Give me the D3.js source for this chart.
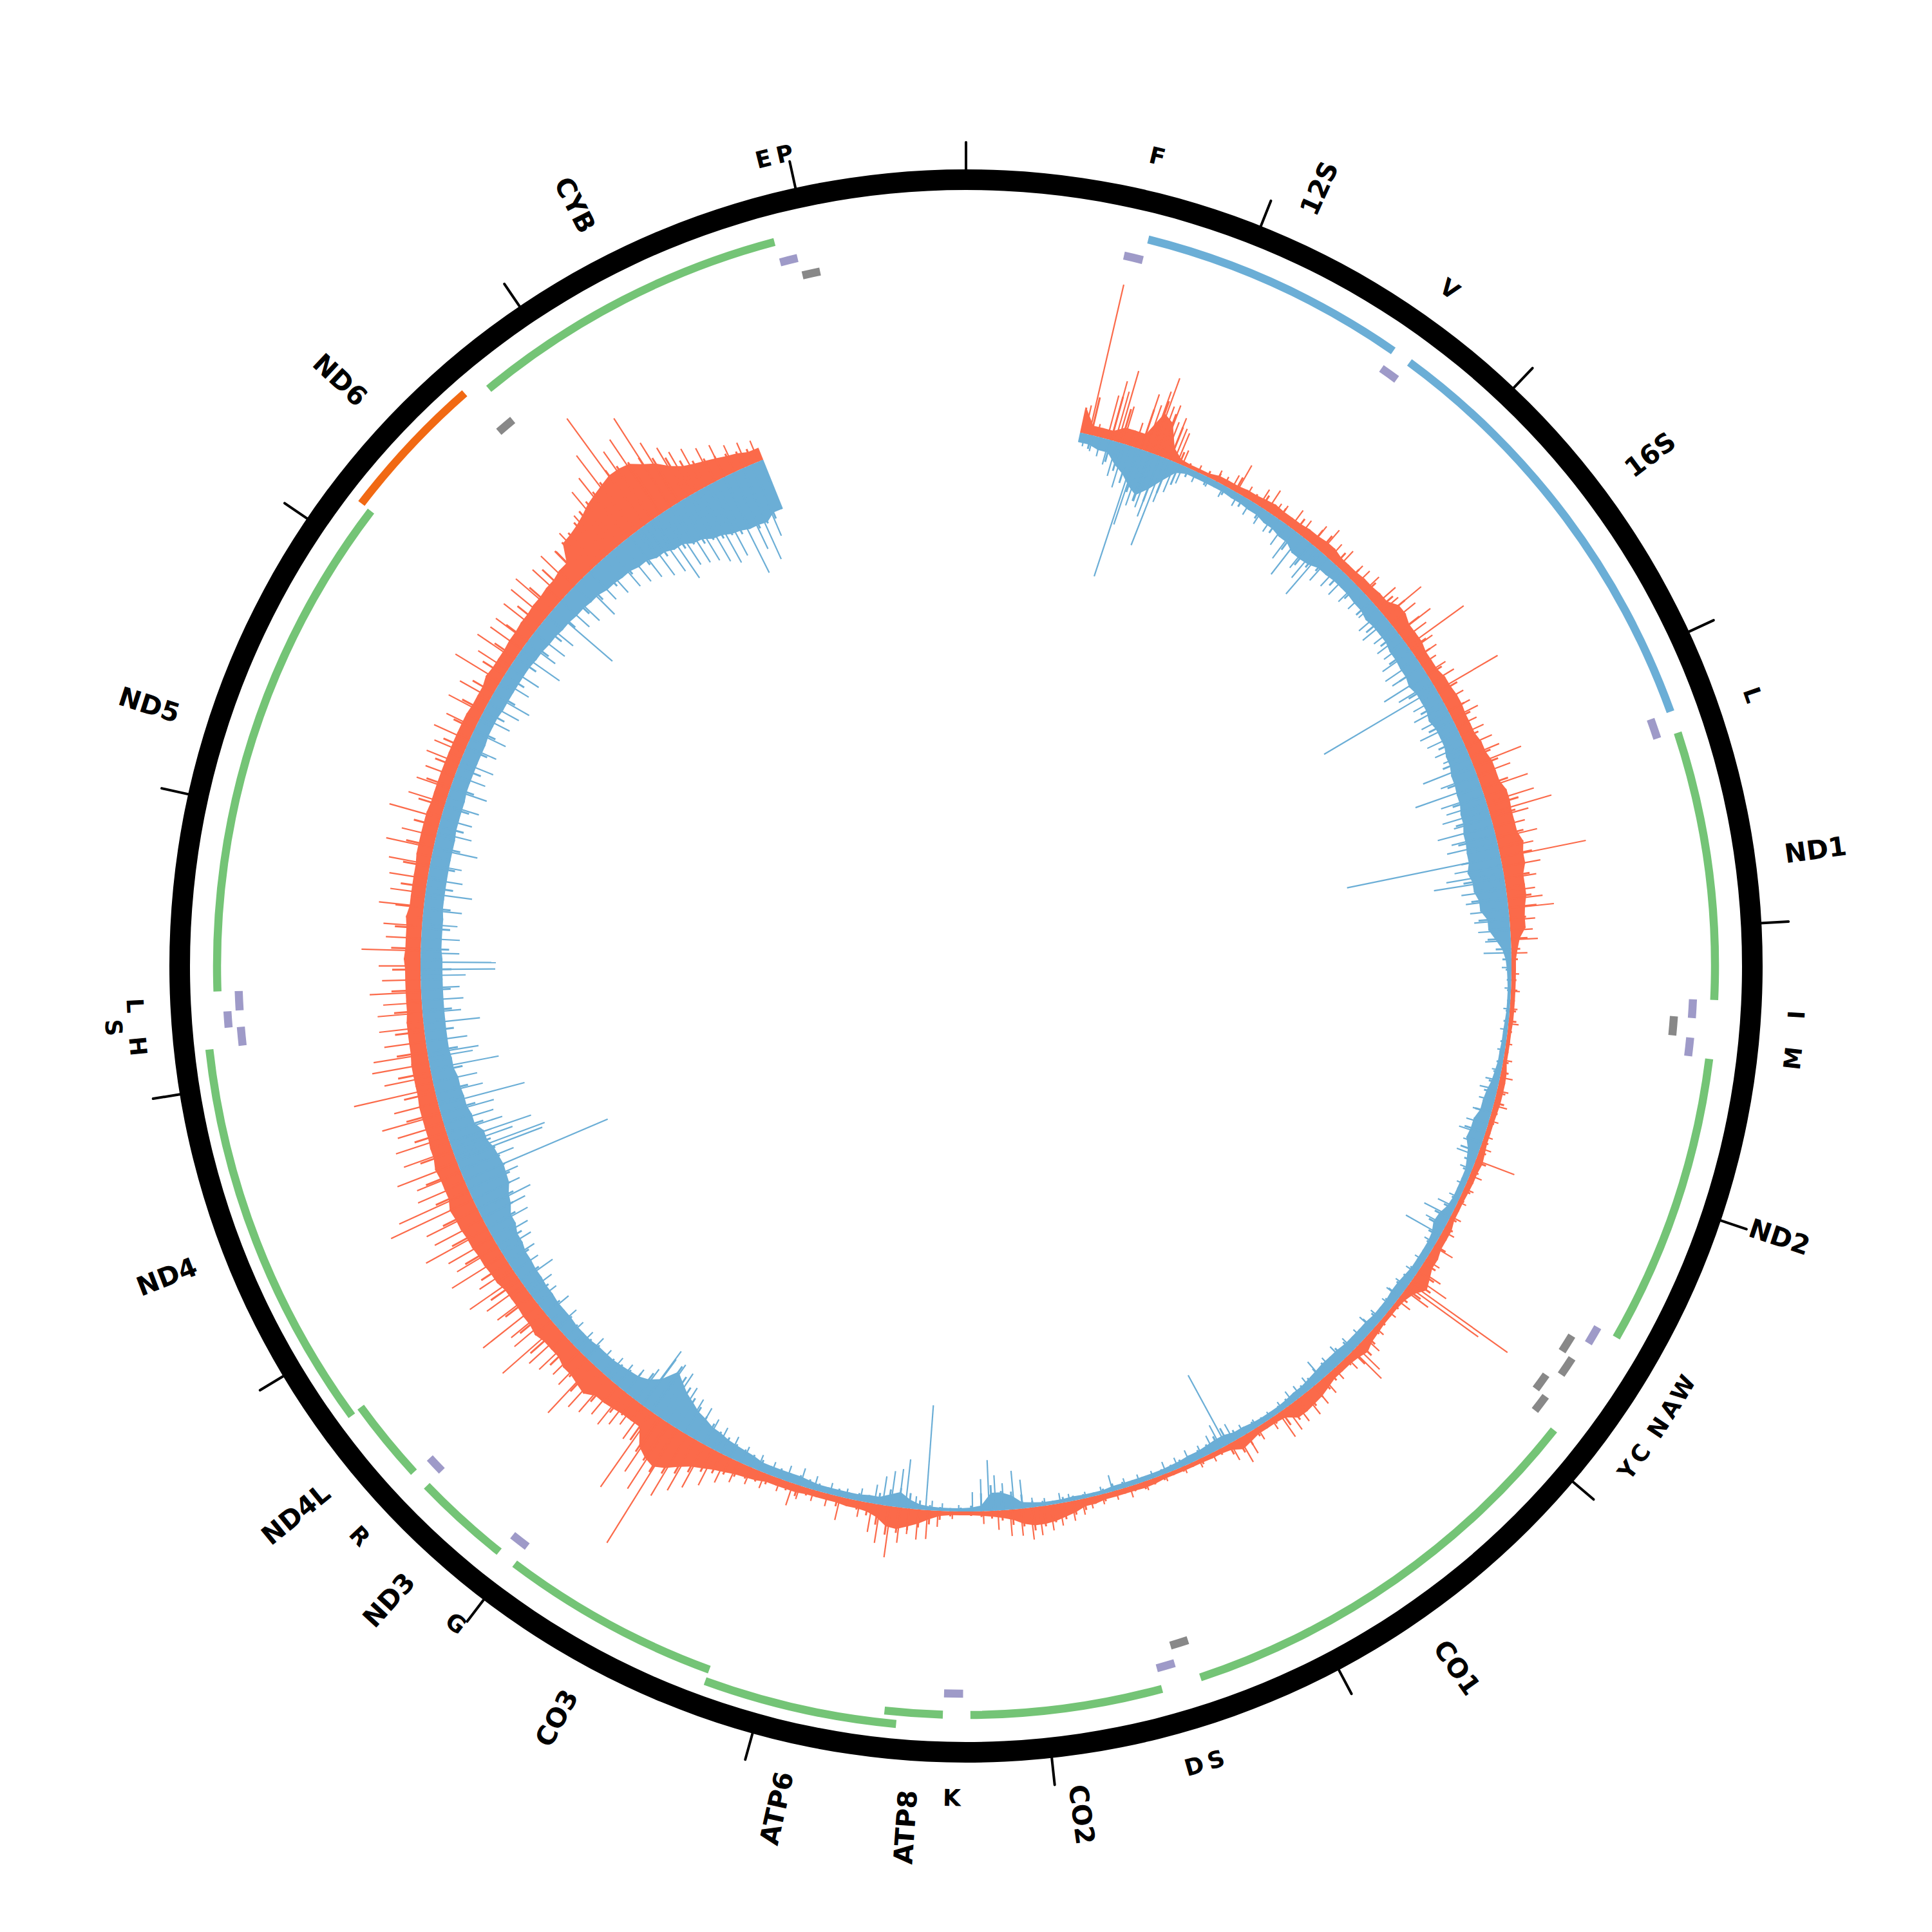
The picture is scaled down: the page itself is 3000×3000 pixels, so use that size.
<!DOCTYPE html>
<html>
<head>
<meta charset="utf-8">
<script src="https://cdnjs.cloudflare.com/ajax/libs/d3/7.8.5/d3.min.js"></script>
<style>
  body { margin: 0; background: #ffffff; }
  text { font-family: "DejaVu Sans", sans-serif; fill: #000; }
</style>
</head>
<body>
<svg id="chart" width="3000" height="3000"></svg>
<script>
// ---------------- DATA ----------------
const genomeLength = 16569;
const tickPositions = [0,1000,2000,3000,4000,5000,6000,7000,8000,9000,10000,11000,12000,13000,14000,15000,16000];

const featureNames  = ["F","12S","V","16S","L1","ND1","I","Q","M","ND2","W","A","N","C","Y","CO1","S1","D","CO2","K","ATP8","ATP6","CO3","G","ND3","R","ND4L","ND4","H","S2","L2","ND5","ND6","E","CYB","T","P"];
const featureStarts = [577,648,1602,1671,3230,3307,4263,4329,4402,4470,5512,5587,5657,5761,5826,5904,7446,7518,7586,8295,8366,8527,9207,9991,10059,10405,10470,10760,12138,12207,12266,12337,14149,14674,14747,15888,15956];
const featureEnds   = [647,1601,1670,3229,3304,4262,4331,4400,4469,5511,5579,5655,5729,5826,5891,7445,7514,7585,8269,8364,8572,9207,9990,10058,10404,10469,10766,12137,12206,12265,12336,14148,14673,14742,15887,15953,16023];
const featureTypes  = ["tRNA","rRNA","tRNA","rRNA","tRNA","protein","tRNA","tRNA","tRNA","protein","tRNA","tRNA","tRNA","tRNA","tRNA","protein","tRNA","tRNA","protein","tRNA","protein","protein","protein","tRNA","protein","tRNA","protein","protein","tRNA","tRNA","tRNA","protein","protein","tRNA","protein","tRNA","tRNA"];
const featureStrands= ["H","H","H","H","H","H","H","L","H","H","H","L","L","L","L","H","L","H","H","H","H","H","H","H","H","H","H","H","H","H","H","H","L","L","H","H","L"];
const featureLabels = ["F","12S","V","16S","L","ND1","I","","M","ND2","W","A","N","C","Y","CO1","S","D","CO2","K","ATP8","ATP6","CO3","G","ND3","R","ND4L","ND4","H","S","L","ND5","ND6","","CYB","E","P"];
const liftedLabels  = ["S2"];

// coverage depth in 50 bp bins starting at 560
const coverageStart = 560;
const coverageStep = 50;
const forwardDepth = [
  40,60,15,70,55,25,65,85,70,55,20,8,6,10,14,10,25,12,14,22,
  16,20,14,24,16,28,30,18,24,14,20,16,24,18,30,40,28,42,22,30,
  26,18,26,22,34,24,28,30,22,28,26,34,40,30,44,36,50,40,34,44,
  40,50,36,40,30,38,44,26,24,26,14,10,7,8,10,7,10,12,7,6,
  6,9,12,10,14,16,10,9,8,10,12,18,12,10,12,9,8,12,14,12,
  20,16,22,30,35,28,15,10,8,10,12,18,26,28,14,12,16,20,22,26,
  24,28,26,12,10,14,20,24,18,10,8,10,7,8,7,9,10,12,10,9,
  9,12,12,18,22,26,28,32,36,28,24,16,12,9,7,6,8,14,22,28,
  34,40,45,32,20,14,12,16,10,10,12,18,14,12,16,18,20,24,28,34,
  40,50,62,72,80,70,65,55,30,32,40,34,46,44,55,40,36,48,30,58,
  34,50,30,52,28,55,32,50,34,58,36,62,38,60,40,56,34,58,36,54,
  32,52,30,55,30,50,28,52,28,48,26,46,26,44,24,46,24,44,26,46,
  24,42,26,44,22,40,22,42,24,44,24,40,24,42,22,40,22,38,22,38,
  22,36,22,38,20,38,24,40,22,40,24,42,26,46,28,50,30,54,34,60,
  62,66,72,80,85,90,95,105,100,95,92,80,70,55,45,40,36,32,28,25,
  20];
const reverseDepth = [
  15,22,20,35,45,60,70,80,75,55,35,15,10,14,10,15,12,18,14,20,
  18,26,22,36,30,42,34,28,22,30,20,28,22,32,26,38,24,34,28,40,
  30,42,34,44,30,40,34,42,30,40,34,46,38,50,40,52,44,56,48,60,
  50,62,55,64,50,56,44,48,34,36,24,14,9,7,6,5,6,8,7,9,
  8,10,12,16,20,18,26,24,34,26,30,18,14,10,10,12,18,26,28,20,
  14,12,12,14,16,18,22,16,14,18,22,16,16,20,22,18,20,22,16,14,
  12,12,10,9,10,12,12,16,28,22,16,14,12,12,10,9,8,8,8,10,
  12,8,6,7,8,9,6,8,10,22,28,30,40,28,9,6,5,6,8,14,
  24,30,26,18,12,12,10,12,10,12,14,16,14,16,14,18,20,22,24,28,
  30,36,40,48,55,65,75,85,88,50,38,32,30,28,26,28,26,24,26,28,
  26,30,28,32,30,36,32,38,36,44,42,50,54,62,64,70,68,66,64,62,
  56,60,46,56,42,52,40,50,36,48,34,46,34,46,34,46,34,48,34,44,
  32,44,32,42,30,42,30,40,30,42,30,40,28,40,28,38,26,38,26,36,
  26,36,24,36,26,38,26,36,26,38,28,40,30,42,32,44,34,46,36,46,
  40,46,42,48,46,54,52,60,58,66,68,76,78,84,86,92,90,96,94,92,
  82];

// single-position peaks [position, depth]
const forwardPeaks = [[580,45],[600,239],[640,20],[690,70],[710,95],[730,80],[745,115],[770,60],[800,25],[830,40],[860,90],[885,75],[905,100],[920,124],[940,80],[965,85],[985,60],[1009,70],[1030,55],[1048,50],[1075,25],
  [1160,12],[1258,19],[1300,15],[1340,25],[1368,48],[1420,20],[1496,30],[1541,38],[1580,22],
  [1611,25],[1680,33],[1740,28],[1812,36],[1868,44],[1920,30],[1980,34],[2060,28],[2100,30],[2150,34],[2237,42],[2280,35],
  [2310,73],[2350,50],[2412,63],[2450,45],[2490,107],[2515,41],[2560,38],[2601,28],[2650,35],[2700,40],[2748,109],[2807,36],[2860,38],[2900,45],[2946,35],[2990,40],
  [3050,45],[3100,50],[3148,80],[3200,55],[3272,75],[3341,77],[3393,100],[3420,60],[3467,50],[3520,65],[3570,55],[3615,135],[3660,60],[3719,50],[3780,45],[3820,55],[3863,71],[3920,40],[3970,35],[4015,42],[4080,25],
  [4180,12],[4264,14],[4350,12],[4422,16],[4520,10],[4600,14],[4684,20],[4750,18],[4824,22],[4900,15],[4980,14],[5040,18],[5101,64],[5180,20],[5250,16],[5320,14],[5400,18],[5480,20],[5567,34],
  [5640,25],[5700,40],[5740,60],[5777,186],[5795,135],[5820,45],[5880,25],[5950,15],[6050,18],[6120,30],[6180,50],[6204,62],[6250,25],
  [6330,22],[6400,30],[6460,35],[6520,40],[6580,38],[6630,42],[6674,45],[6720,20],[6800,22],[6860,35],[6900,43],[6950,30],
  [7050,15],[7121,14],[7200,12],[7300,12],[7400,15],[7480,18],[7550,15],[7620,16],[7677,18],[7720,25],[7770,31],[7830,35],[7876,40],[7930,45],[7972,50],[8020,42],[8071,41],[8130,30],[8200,20],
  [8350,12],[8420,25],[8470,45],[8515,47],[8560,40],[8600,55],[8648,80],[8700,60],[8740,45],[8800,25],[8898,37],[8960,20],[9030,18],[9100,22],[9135,36],[9200,20],[9280,25],[9350,28],
  [9420,35],[9480,45],[9540,60],[9600,75],[9650,90],[9700,110],[9753,208],[9800,120],[9850,100],[9898,141],[9940,60],[9990,45],[10030,55],[10070,66],[10120,60],[10170,70],[10220,75],[10268,103],[10320,60],[10370,55],
  [10430,65],[10480,70],[10525,111],[10580,70],[10620,65],[10662,109],[10720,65],[10780,70],[10830,90],[10880,60],[10950,95],[11000,75],[11050,80],[11100,110],[11150,85],[11200,90],[11259,141],[11300,120],[11350,80],[11402,74],[11450,100],
  [11520,80],[11587,85],[11650,75],[11700,95],[11760,70],[11831,128],[11890,75],[11953,90],[12000,85],[12060,65],[12130,70],[12200,70],[12250,60],[12300,80],[12360,60],[12427,65],[12500,92],
  [12560,55],[12620,60],[12714,70],[12780,55],[12850,60],[12920,65],[13001,75],[13060,55],[13150,83],[13226,60],[13300,55],[13363,48],[13430,55],[13487,50],
  [13550,60],[13620,50],[13700,60],[13780,55],[13873,82],[13940,55],[14000,70],[14060,60],[14106,61],[14180,65],[14250,70],[14300,75],[14380,65],[14450,70],[14513,58],
  [14580,75],[14625,60],[14680,80],[14740,110],[14800,120],[14850,150],[14908,205],[14950,130],[15000,140],[15062,164],[15100,110],[15150,90],[15186,75],[15240,70],[15300,60],[15360,55],[15420,45],[15480,40],[15540,35]];

const reversePeaks = [[580,20],[620,25],[660,30],[700,40],[740,55],[780,70],[838,210],[852,124],[880,90],[905,80],[930,88],[960,100],[986,145],[1010,70],[1040,50],[1080,30],
  [1150,18],[1220,15],[1300,20],[1380,22],[1450,25],[1520,28],[1580,30],
  [1650,40],[1700,55],[1745,76],[1800,50],[1840,60],[1873,85],[1920,45],[1980,40],[2039,41],[2100,38],[2160,35],[2229,32],[2280,45],
  [2330,50],[2380,40],[2430,45],[2473,42],[2520,55],[2570,60],[2610,55],[2657,79],[2700,60],[2734,201],[2780,48],[2830,55],[2880,50],[2930,60],[2980,55],
  [3040,50],[3085,42],[3143,83],[3200,60],[3249,107],[3300,70],[3340,65],[3380,75],[3420,60],[3457,89],[3500,70],[3540,80],[3609,243],[3650,75],[3690,90],[3722,111],[3770,70],[3820,65],[3870,60],[3920,55],[3970,50],[4020,40],[4078,43],
  [4150,15],[4250,10],[4350,10],[4450,12],[4550,12],[4650,15],[4700,22],[4745,28],[4800,25],[4860,30],[4920,35],[4970,42],[5020,30],[5080,34],[5150,20],[5230,15],[5300,18],[5350,30],[5400,46],[5450,35],[5501,62],[5550,20],
  [5650,18],[5720,20],[5800,22],[5863,25],[5920,20],[6000,22],[6063,28],[6130,22],[6200,25],[6272,29],[6340,25],[6407,35],[6480,22],[6540,20],[6588,21],[6650,15],[6720,12],[6800,14],[6870,18],[6930,30],[6973,124],[7000,40],[7040,28],
  [7100,20],[7168,22],[7230,18],[7293,19],[7360,12],[7430,14],[7500,15],[7566,26],[7620,12],[7700,10],[7780,12],[7825,16],[7900,12],[7960,15],[8009,45],[8050,60],[8101,42],[8140,55],[8172,79],[8210,50],[8253,30],
  [8320,10],[8400,12],[8450,15],[8480,163],[8530,20],[8579,76],[8610,60],[8650,55],[8690,45],[8730,30],[8800,20],[8870,15],[8950,18],[9030,22],[9100,28],[9170,25],[9250,22],[9320,25],
  [9400,28],[9470,35],[9540,40],[9600,45],[9660,55],[9720,60],[9780,70],[9840,85],[9900,90],[9963,103],[10000,60],[10060,45],[10120,40],[10180,38],[10250,35],[10320,40],[10380,35],
  [10450,35],[10520,40],[10600,45],[10680,40],[10740,45],[10800,60],[10860,45],[10920,50],[10980,55],[11040,60],[11100,70],[11160,75],[11200,90],[11260,80],[11320,85],[11362,242],[11420,90],[11468,143],[11489,149],[11530,100],
  [11556,133],[11600,90],[11650,80],[11700,85],[11746,138],[11800,75],[11860,70],[11925,108],[11980,70],[12000,80],[12060,65],[12147,88],[12200,60],[12260,65],[12320,60],[12380,70],[12410,116],[12446,117],[12490,60],
  [12560,60],[12630,55],[12700,60],[12781,73],[12850,55],[12920,50],[13000,70],[13080,55],[13150,50],[13220,55],[13300,60],[13370,50],[13440,55],
  [13520,50],[13600,55],[13680,50],[13750,55],[13800,65],[13880,50],[13950,55],[14040,76],[14100,55],[14160,60],[14230,60],[14303,122],[14360,60],[14420,65],[14499,75],
  [14560,60],[14630,65],[14700,70],[14760,75],[14820,80],[14880,90],[14940,95],[14982,116],[15030,100],[15080,105],[15130,110],[15180,120],[15230,130],[15280,125],[15346,164],[15400,130],[15445,153],[15500,120],[15553,69]];

// ---------------- STYLE / LAYOUT ----------------
const colors = { proteinH: "#74c476", proteinL: "#f16913", rRNA: "#6baed6", tRNAH: "#9e9ac8", tRNAL: "#888888", fwd: "#fb6a4a", rev: "#6baed6" };
const R = { ringIn: 1205, ringOut: 1237, tickOut: 1279, gene: 1163, tH: 1130, tL: 1102, rowStep: 19, barW: 12.5,
            base: 847, geneLabel: 1283, tLabel: 1292, lift: 35 };

const svg = d3.select("#chart");
svg.append("rect").attr("width", 3000).attr("height", 3000).attr("fill", "#fff");
const g = svg.append("g").attr("transform", "translate(1500,1500)");

const angle = d3.scaleLinear().domain([0, genomeLength]).range([0, 2 * Math.PI]);
const depth = d3.scaleLinear().domain([0, 250]).range([0, 250]);
const deg = bp => angle(bp) * 180 / Math.PI;

// ---------------- COVERAGE ----------------
function binned(values) {
  const n = values.length;
  return values.map((v, i) => ({
    pos: coverageStart + i * coverageStep,
    v,
    core: Math.min(values[Math.max(0, i - 1)], v, values[Math.min(n - 1, i + 1)])
  }));
}
const fwdData = binned(forwardDepth);
const revData = binned(reverseDepth);

const fwdArea = d3.areaRadial().angle(d => angle(d.pos)).innerRadius(R.base).outerRadius(d => R.base + depth(d.core));
const revArea = d3.areaRadial().angle(d => angle(d.pos)).innerRadius(d => R.base - depth(d.core)).outerRadius(R.base);
const spike = d3.lineRadial().angle(d => d[0]).radius(d => d[1]);

function needles(data, sign, color, width) {
  g.append("g").selectAll("path").data(data).join("path")
    .attr("d", d => spike([[angle(d[0]), R.base], [angle(d[0]), R.base + sign * depth(d[1])]]))
    .attr("stroke", color).attr("stroke-width", width).attr("fill", "none");
}
g.append("path").datum(fwdData).attr("d", fwdArea).attr("fill", colors.fwd);
g.append("path").datum(revData).attr("d", revArea).attr("fill", colors.rev);
needles(fwdData.map(d => [d.pos, d.v]), 1, colors.fwd, 3);
needles(revData.map(d => [d.pos, d.v]), -1, colors.rev, 3);
needles(forwardPeaks, 1, colors.fwd, 2.2);
needles(reversePeaks, -1, colors.rev, 2.2);

// ---------------- FEATURES ----------------
const features = featureNames.map((n, i) => ({
  name: n, start: featureStarts[i], end: featureEnds[i], type: featureTypes[i],
  strand: featureStrands[i], label: featureLabels[i]
}));

function assignRows(list, pad) {
  const rowEnds = [];
  list.slice().sort((a, b) => a.start - b.start).forEach(f => {
    let r = rowEnds.findIndex(e => f.start > e + pad);
    if (r < 0) { r = rowEnds.length; rowEnds.push(f.end); } else rowEnds[r] = f.end;
    f.row = r;
  });
}
const genes = features.filter(f => f.type !== "tRNA");
const tH = features.filter(f => f.type === "tRNA" && f.strand === "H");
const tL = features.filter(f => f.type === "tRNA" && f.strand === "L");
assignRows(genes, 5); assignRows(tH, 5); assignRows(tL, 5);

function radiusOf(f) {
  if (f.type !== "tRNA") return R.gene + f.row * R.rowStep;
  return (f.strand === "H" ? R.tH : R.tL) + f.row * R.rowStep;
}
function colorOf(f) {
  if (f.type === "rRNA") return colors.rRNA;
  if (f.type === "protein") return f.strand === "H" ? colors.proteinH : colors.proteinL;
  return f.strand === "H" ? colors.tRNAH : colors.tRNAL;
}
const arc = d3.arc();
g.append("g").selectAll("path").data(features).join("path")
  .attr("d", f => arc({ innerRadius: radiusOf(f) - R.barW / 2, outerRadius: radiusOf(f) + R.barW / 2,
                        startAngle: angle(f.start), endAngle: angle(f.end) }))
  .attr("fill", colorOf);

// ---------------- RING & TICKS ----------------
g.append("path").attr("d", arc({ innerRadius: R.ringIn, outerRadius: R.ringOut, startAngle: 0, endAngle: 2 * Math.PI }))
  .attr("fill", "#000");
g.append("g").selectAll("line").data(tickPositions).join("line")
  .attr("x1", d => d3.pointRadial(angle(d), R.ringOut - 2)[0])
  .attr("y1", d => d3.pointRadial(angle(d), R.ringOut - 2)[1])
  .attr("x2", d => d3.pointRadial(angle(d), R.tickOut)[0])
  .attr("y2", d => d3.pointRadial(angle(d), R.tickOut)[1])
  .attr("stroke", "#000").attr("stroke-width", 4).attr("stroke-linecap", "round");

// ---------------- LABELS ----------------
const labelled = features.filter(f => f.label);
g.append("g").selectAll("text").data(labelled.filter(f => f.type !== "tRNA")).join("text")
  .attr("transform", f => {
    const a = deg((f.start + f.end) / 2);
    return a < 180 ? `rotate(${a - 90}) translate(${R.geneLabel},0)` : `rotate(${a + 90}) translate(${-R.geneLabel},0)`;
  })
  .attr("text-anchor", f => deg((f.start + f.end) / 2) < 180 ? "start" : "end")
  .attr("dominant-baseline", "central")
  .attr("font-size", 41).attr("font-weight", "bold")
  .text(f => f.label);

g.append("g").selectAll("text").data(labelled.filter(f => f.type === "tRNA")).join("text")
  .attr("transform", f => {
    const a = deg((f.start + f.end) / 2);
    const r = R.tLabel + (liftedLabels.includes(f.name) ? R.lift : 0);
    const flip = a > 90 && a < 270;
    return `rotate(${a}) translate(0,${-r})` + (flip ? " rotate(180)" : "");
  })
  .attr("text-anchor", "middle").attr("dominant-baseline", "central")
  .attr("font-size", 36).attr("font-weight", "bold")
  .text(f => f.label);
</script>
</body>
</html>
